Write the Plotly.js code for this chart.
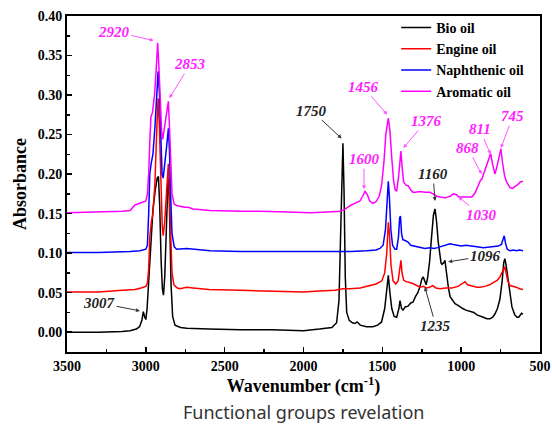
<!DOCTYPE html>
<html>
<head>
<meta charset="utf-8">
<script src="https://cdn.plot.ly/plotly-3.0.1.min.js"></script>
<style>
html,body{margin:0;padding:0;background:#fff;}
#chart{width:552px;height:433px;}
</style>
</head>
<body>
<div id="chart"></div>
<script>
// ---- Data ----
const seriesNames = ["Bio oil", "Engine oil", "Naphthenic oil", "Aromatic oil"];

const bioWn = [3500,3300,3150,3100,3060,3040,3025,3016,3008,3000,2992,2980,2968,2955,2940,2928,2920,2912,2903,2895,2888,2880,2870,2860,2854,2847,2840,2830,2815,2780,2740,2600,2400,2200,2000,1900,1820,1790,1775,1765,1758,1750,1743,1735,1726,1710,1690,1674,1660,1640,1600,1560,1530,1505,1485,1472,1462,1452,1440,1425,1409,1395,1388,1378,1369,1355,1337,1320,1306,1290,1275,1261,1250,1241,1232,1222,1212,1200,1188,1176,1166,1156,1146,1136,1128,1122,1110,1103,1095,1088,1080,1070,1055,1039,1020,1007,990,970,944,920,900,881,860,837,817,800,786,770,754,740,730,723,715,703,690,678,660,646,635,627,617,608];
const bioAbs = [0.000,0.000,0.001,0.002,0.004,0.007,0.015,0.026,0.020,0.016,0.030,0.070,0.120,0.155,0.180,0.195,0.197,0.160,0.090,0.055,0.047,0.070,0.130,0.190,0.195,0.130,0.060,0.020,0.009,0.006,0.005,0.004,0.003,0.003,0.002,0.004,0.006,0.012,0.040,0.120,0.200,0.239,0.180,0.070,0.025,0.015,0.012,0.011,0.013,0.009,0.007,0.007,0.009,0.013,0.030,0.060,0.072,0.050,0.030,0.020,0.019,0.030,0.040,0.030,0.028,0.032,0.033,0.037,0.038,0.045,0.050,0.058,0.067,0.070,0.066,0.060,0.070,0.090,0.120,0.148,0.156,0.140,0.115,0.095,0.088,0.086,0.088,0.091,0.078,0.065,0.055,0.045,0.040,0.036,0.034,0.032,0.030,0.028,0.026,0.025,0.022,0.021,0.019,0.017,0.017,0.019,0.023,0.030,0.042,0.065,0.088,0.093,0.085,0.068,0.045,0.032,0.022,0.019,0.019,0.021,0.024,0.023];

const engineWn = [3500,3300,3150,3069,3030,3000,2990,2982,2975,2965,2955,2942,2930,2922,2914,2905,2896,2890,2880,2868,2857,2850,2842,2834,2822,2800,2783,2741,2700,2600,2400,2200,2000,1900,1800,1750,1705,1640,1578,1540,1503,1485,1472,1462,1455,1445,1432,1415,1400,1388,1382,1375,1365,1350,1325,1300,1280,1261,1240,1220,1200,1180,1160,1134,1100,1060,1020,995,976,960,930,900,881,850,820,790,770,754,740,730,723,715,705,690,670,650,630,608];
const engineAbs = [0.051,0.051,0.053,0.054,0.056,0.058,0.062,0.080,0.120,0.140,0.150,0.190,0.260,0.296,0.260,0.190,0.135,0.122,0.140,0.180,0.213,0.170,0.110,0.075,0.060,0.056,0.055,0.057,0.056,0.054,0.053,0.052,0.051,0.052,0.053,0.055,0.055,0.056,0.059,0.061,0.065,0.075,0.100,0.139,0.125,0.085,0.065,0.061,0.065,0.085,0.091,0.075,0.066,0.064,0.063,0.061,0.059,0.057,0.058,0.056,0.057,0.059,0.056,0.055,0.056,0.056,0.058,0.061,0.064,0.060,0.058,0.057,0.057,0.058,0.060,0.063,0.066,0.070,0.076,0.082,0.083,0.075,0.065,0.059,0.058,0.057,0.055,0.054];

const naphWn = [3500,3300,3100,3037,3000,2990,2982,2975,2965,2955,2942,2930,2922,2913,2905,2897,2890,2880,2868,2857,2850,2842,2834,2820,2804,2741,2650,2593,2400,2200,2000,1800,1700,1600,1540,1515,1495,1480,1470,1462,1455,1446,1435,1420,1409,1398,1390,1385,1378,1370,1355,1337,1320,1300,1280,1261,1230,1200,1170,1150,1120,1090,1071,1050,1030,1000,970,944,900,860,820,790,765,745,735,727,718,708,690,670,650,630,608];
const naphAbs = [0.101,0.101,0.102,0.103,0.105,0.110,0.150,0.200,0.215,0.225,0.260,0.300,0.330,0.300,0.240,0.200,0.195,0.210,0.235,0.258,0.230,0.170,0.125,0.108,0.105,0.106,0.104,0.103,0.102,0.102,0.102,0.102,0.102,0.103,0.104,0.106,0.110,0.130,0.170,0.191,0.170,0.130,0.110,0.105,0.105,0.120,0.145,0.147,0.125,0.117,0.116,0.114,0.110,0.109,0.108,0.107,0.106,0.107,0.106,0.107,0.109,0.111,0.112,0.111,0.110,0.109,0.110,0.109,0.108,0.107,0.108,0.108,0.109,0.111,0.117,0.122,0.112,0.105,0.103,0.104,0.103,0.104,0.103];

const aromWn = [3500,3300,3150,3100,3069,3026,3000,2990,2982,2975,2968,2958,2945,2935,2925,2918,2910,2900,2893,2880,2868,2857,2850,2842,2834,2820,2800,2752,2731,2700,2593,2400,2276,2100,1959,1850,1769,1740,1705,1675,1642,1625,1610,1595,1580,1560,1540,1520,1505,1490,1478,1462,1452,1440,1428,1418,1409,1398,1388,1382,1375,1365,1350,1335,1320,1306,1290,1261,1230,1198,1179,1155,1134,1100,1070,1050,1029,1015,987,960,933,912,893,878,868,858,845,830,813,800,786,775,760,748,738,725,712,700,690,675,659,640,625,608];
const aromAbs = [0.151,0.152,0.153,0.154,0.161,0.164,0.166,0.175,0.200,0.240,0.272,0.278,0.300,0.330,0.366,0.340,0.300,0.255,0.244,0.260,0.280,0.292,0.260,0.210,0.175,0.162,0.160,0.158,0.158,0.156,0.154,0.153,0.153,0.152,0.151,0.152,0.153,0.155,0.160,0.163,0.166,0.172,0.178,0.174,0.166,0.163,0.165,0.172,0.185,0.215,0.250,0.271,0.255,0.220,0.190,0.180,0.179,0.195,0.222,0.229,0.210,0.190,0.186,0.185,0.180,0.177,0.177,0.178,0.177,0.177,0.175,0.172,0.171,0.170,0.172,0.175,0.174,0.171,0.171,0.171,0.171,0.176,0.185,0.192,0.194,0.200,0.208,0.215,0.226,0.212,0.200,0.208,0.220,0.232,0.215,0.198,0.190,0.186,0.183,0.182,0.184,0.187,0.190,0.191];

const seriesColors = ["#000000", "#ff0000", "#0000ff", "#ff00ff"];

// Tick labels
const xTickVals = [3500, 3000, 2500, 2000, 1500, 1000, 500];
const xTickText = ["3500", "3000", "2500", "2000", "1500", "1000", "500"];
const yTickVals = [0.00, 0.05, 0.10, 0.15, 0.20, 0.25, 0.30, 0.35, 0.40];
const yTickText = ["0.00", "0.05", "0.10", "0.15", "0.20", "0.25", "0.30", "0.35", "0.40"];

// Peak labels: [wavenumber, absorbance at arrow tip, text, colour index, offset x px, offset y px]
const peakLabels = [
  [2950, 0.369, "2920", 3, -40, -9],
  [2851, 0.296, "2853", 3, 21, -34],
  [3037, 0.027, "3007", 0, -41, -8],
  [1758, 0.245, "1750", 0, -30, -28],
  [1616, 0.181, "1600", 3, 0, -30],
  [1469, 0.275, "1456", 3, -24, -28],
  [1367, 0.233, "1376", 3, 23, -27],
  [1166, 0.166, "1160", 0, -2, -27],
  [870, 0.200, "868", 3, -14, -26],
  [813, 0.225, "811", 3, -11, -25],
  [748, 0.233, "745", 3, 12, -32],
  [1018, 0.171, "1030", 3, 23, 18],
  [1082, 0.089, "1096", 0, 37, -6],
  [1230, 0.057, "1235", 0, 11, 39]
];

const xTitle = "Wavenumber (cm<sup>-1</sup>)";
const yTitle = "Absorbance";
const caption = "Functional groups revelation";

// ---- Build traces ----
const wnList = [bioWn, engineWn, naphWn, aromWn];
const absList = [bioAbs, engineAbs, naphAbs, aromAbs];
const traces = seriesNames.map((name, i) => ({
  type: "scatter",
  mode: "lines",
  name: "<b>" + name + "</b>",
  x: wnList[i],
  y: absList[i],
  line: {color: seriesColors[i], width: 1.5}
}));

const serif = "Liberation Serif, Times New Roman, serif";
const labelColors = ["#222222", "#ff0000", "#0000ff", "#ff22ff"];

const annotations = peakLabels.map(p => ({
  x: p[0], y: p[1], xref: "x", yref: "y",
  text: "<b><i>" + p[2] + "</i></b>",
  showarrow: true, ax: p[4], ay: p[5],
  arrowhead: 2, arrowsize: 0.8, arrowwidth: 1,
  arrowcolor: p[3] === 0 ? "#333333" : "#ff55ff",
  standoff: 0, startstandoff: 0,
  font: {family: serif, size: 15, color: labelColors[p[3]]}
}));

annotations.push({
  xref: "paper", yref: "paper", x: 0.499, y: -0.18,
  xanchor: "center", yanchor: "middle",
  text: caption, showarrow: false,
  font: {family: "Noto Sans, DejaVu Sans, sans-serif", size: 18, color: "#333333"}
});

const layout = {
  width: 552, height: 433,
  margin: {l: 67, r: 12, t: 14, b: 81},
  paper_bgcolor: "#ffffff", plot_bgcolor: "#ffffff",
  showlegend: true,
  legend: {
    x: 0.696, y: 1.012, xanchor: "left", yanchor: "top",
    bgcolor: "rgba(0,0,0,0)", borderwidth: 0,
    font: {family: serif, size: 14, color: "#000"},
    tracegroupgap: 0
  },
  xaxis: {
    range: [3500, 500], autorange: false,
    tickmode: "array", tickvals: xTickVals, ticktext: xTickText.map(t => "<b>" + t + "</b>"),
    ticks: "inside", ticklen: 5, tickwidth: 1.5, tickcolor: "#000",
    minor: {dtick: 250, tick0: 500, ticks: "inside", ticklen: 3, tickwidth: 1.5, tickcolor: "#000"},
    showline: true, linewidth: 2, linecolor: "#000", mirror: true,
    showgrid: false, zeroline: false,
    tickfont: {family: serif, size: 14, color: "#000"},
    title: {text: "<b>" + xTitle + "</b>", font: {family: serif, size: 18, color: "#000"}, standoff: 4}
  },
  yaxis: {
    range: [-0.025, 0.40], autorange: false,
    tickmode: "array", tickvals: yTickVals, ticktext: yTickText.map(t => "<b>" + t + "</b>"),
    ticks: "inside", ticklen: 5, tickwidth: 1.5, tickcolor: "#000",
    minor: {dtick: 0.025, tick0: 0, ticks: "inside", ticklen: 3, tickwidth: 1.5, tickcolor: "#000"},
    showline: true, linewidth: 2, linecolor: "#000", mirror: true,
    showgrid: false, zeroline: false,
    tickfont: {family: serif, size: 14, color: "#000"},
    title: {text: "<b>" + yTitle + "</b>", font: {family: serif, size: 18, color: "#000"}, standoff: 6}
  },
  annotations: annotations
};

Plotly.newPlot("chart", traces, layout, {displayModeBar: false, staticPlot: true});
</script>
</body>
</html>
